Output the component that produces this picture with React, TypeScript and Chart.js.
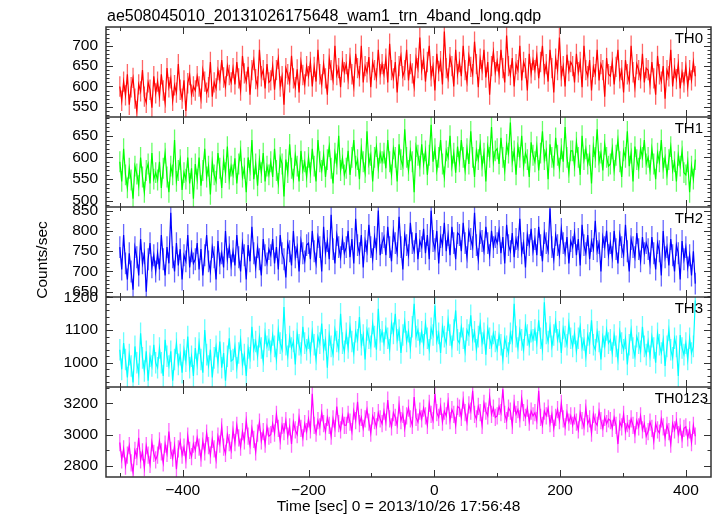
import { useEffect, useRef } from "react";
import { Chart, registerables } from "chart.js";

Chart.register(...registerables);

const TITLE = "ae508045010_20131026175648_wam1_trn_4band_long.qdp";
const X_LABEL = "Time [sec] 0 = 2013/10/26 17:56:48";
const Y_LABEL = "Counts/sec";

// time bins (sec) of the light curve
const TIME_START = -500;
const TIME_STEP = 3;
const X_MIN = -522;
const X_MAX = 440;
const X_LABEL_TICKS = [-400, -200, 0, 200, 400];

const TH0 = [
  600, 565, 612, 578, 630, 555, 598, 621, 570, 540, 605, 588, 640, 575, 560, 610, 592, 548, 625, 583,
  612, 575, 630, 590, 560, 645, 598, 620, 565, 603, 585, 655, 592, 570, 615, 540, 608, 628, 580, 600,
  590, 625, 600, 570, 640, 612, 585, 598, 660, 575, 610, 595, 640, 615, 665, 622, 600, 650, 628, 610,
  645, 605, 660, 620, 590, 675, 632, 612, 648, 580, 640, 665, 618, 600, 690, 625, 640, 595, 655, 610,
  615, 650, 592, 640, 668, 600, 625, 555, 645, 630, 610, 675, 620, 598, 642, 585, 660, 628, 605, 650,
  625, 660, 600, 648, 612, 690, 630, 605, 655, 620, 580, 668, 640, 615, 700, 628, 645, 598, 662, 635,
  655, 618, 670, 630, 600, 680, 645, 625, 700, 610, 650, 635, 672, 598, 660, 640, 620, 690, 630, 655,
  630, 668, 610, 705, 640, 620, 660, 585, 650, 675, 625, 640, 690, 615, 655, 632, 600, 670, 645, 720,
  640, 668, 612, 660, 700, 625, 650, 590, 680, 638, 662, 605, 735, 645, 620, 672, 650, 600, 690, 630,
  660, 625, 700, 640, 612, 675, 648, 630, 710, 655, 598, 668, 640, 690, 622, 660, 580, 650, 685, 635,
  662, 630, 690, 645, 610, 725, 650, 628, 670, 600, 655, 640, 700, 615, 660, 645, 590, 680, 632, 665,
  640, 675, 620, 660, 700, 630, 655, 612, 690, 645, 585, 668, 640, 720, 625, 650, 600, 678, 638, 660,
  650, 610, 680, 635, 660, 598, 700, 640, 625, 665, 590, 648, 630, 690, 615, 655, 640, 575, 670, 630,
  625, 660, 605, 648, 690, 620, 640, 585, 665, 630, 612, 700, 635, 598, 655, 640, 620, 680, 610, 645,
  640, 605, 660, 620, 580, 675, 630, 612, 650, 570, 640, 625, 690, 600, 645, 618, 655, 595, 635, 610,
  650, 600, 640, 615, 660, 625,
];

const TH1 = [
  590, 545, 620, 560, 530, 575, 548, 505, 580, 562, 535, 600, 555, 520, 570, 585, 540, 610, 550, 565,
  548, 590, 530, 575, 610, 555, 520, 580, 560, 640, 545, 570, 595, 525, 565, 550, 600, 540, 575, 505,
  585, 550, 600, 535, 570, 620, 555, 580, 515, 590, 560, 545, 610, 575, 530, 595, 565, 625, 550, 580,
  560, 598, 540, 585, 615, 555, 575, 520, 600, 570, 640, 550, 585, 535, 595, 565, 610, 545, 580, 560,
  590, 555, 620, 570, 540, 600, 585, 510, 595, 565, 630, 575, 550, 605, 580, 545, 615, 570, 590, 555,
  600, 565, 620, 580, 545, 640, 590, 570, 605, 555, 595, 625, 575, 540, 610, 585, 650, 570, 598, 560,
  575, 615, 560, 600, 640, 580, 595, 550, 620, 590, 565, 660, 585, 605, 545, 600, 625, 575, 610, 590,
  610, 575, 640, 590, 560, 620, 600, 545, 630, 595, 580, 665, 600, 570, 615, 590, 520, 625, 605, 580,
  630, 585, 615, 560, 605, 675, 590, 620, 570, 600, 640, 585, 555, 615, 600, 650, 580, 610, 565, 625,
  590, 640, 600, 570, 620, 585, 660, 600, 555, 615, 595, 630, 580, 610, 545, 625, 600, 670, 590, 615,
  620, 585, 645, 600, 570, 630, 610, 680, 590, 615, 560, 625, 600, 650, 580, 610, 595, 555, 635, 605,
  590, 625, 570, 610, 660, 595, 615, 550, 630, 600, 580, 645, 605, 575, 620, 590, 670, 600, 565, 615,
  615, 580, 635, 600, 560, 650, 595, 620, 585, 605, 540, 625, 600, 665, 590, 610, 570, 630, 600, 580,
  585, 620, 570, 605, 640, 590, 555, 615, 600, 660, 580, 610, 545, 625, 595, 575, 620, 600, 640, 585,
  600, 570, 620, 585, 550, 610, 590, 640, 575, 600, 560, 595, 625, 570, 590, 545, 605, 580, 615, 565,
  560, 590, 520, 580, 550, 595,
];

const TH2 = [
  760, 705, 790, 720, 680, 745, 700, 655, 760, 735, 690, 780, 720, 745, 650, 730, 770, 710, 740, 700,
  745, 705, 790, 730, 690, 760, 720, 845, 735, 700, 770, 715, 755, 680, 740, 725, 790, 710, 750, 720,
  730, 770, 705, 755, 690, 740, 790, 725, 700, 760, 735, 680, 775, 720, 745, 710, 800, 730, 760, 715,
  750, 715, 790, 735, 700, 770, 740, 680, 765, 725, 810, 745, 710, 760, 730, 690, 780, 740, 720, 755,
  740, 780, 720, 760, 705, 790, 745, 730, 685, 770, 750, 715, 800, 735, 760, 700, 775, 745, 725, 765,
  770, 730, 800, 750, 720, 785, 760, 700, 810, 745, 775, 730, 840, 755, 720, 790, 760, 735, 780, 745,
  760, 800, 735, 780, 720, 830, 765, 745, 790, 710, 775, 750, 815, 760, 730, 785, 755, 850, 740, 770,
  785, 740, 810, 760, 725, 800, 770, 745, 835, 760, 705, 790, 765, 740, 820, 770, 750, 795, 730, 775,
  760, 805, 745, 790, 730, 850, 775, 755, 800, 720, 785, 765, 820, 750, 790, 740, 810, 770, 730, 795,
  790, 750, 820, 770, 735, 800, 780, 760, 845, 765, 730, 795, 775, 750, 810, 770, 740, 800, 760, 785,
  770, 800, 745, 785, 720, 815, 765, 750, 795, 735, 780, 760, 830, 745, 770, 710, 790, 765, 805, 750,
  780, 740, 810, 765, 725, 795, 770, 750, 855, 760, 730, 790, 765, 740, 805, 770, 745, 785, 720, 775,
  760, 795, 740, 780, 715, 815, 765, 745, 790, 730, 775, 755, 825, 750, 770, 700, 785, 760, 800, 740,
  770, 735, 800, 755, 720, 790, 760, 740, 815, 750, 700, 780, 760, 735, 795, 755, 725, 785, 745, 770,
  755, 720, 785, 745, 705, 770, 750, 690, 800, 735, 760, 715, 780, 740, 700, 765, 745, 680, 775, 730,
  760, 710, 740, 690, 750, 670,
];

const TH3 = [
  1040, 980, 1060, 1010, 955, 1025, 990, 940, 1050, 1000, 965, 1090, 1015, 975, 1035, 945, 1020, 990, 1055, 1000,
  985, 1045, 1000, 960, 1070, 1020, 990, 1035, 945, 1010, 1060, 995, 1025, 970, 1040, 1005, 1080, 985, 1020, 960,
  1045, 995, 1060, 1010, 970, 1100, 1025, 990, 1040, 955, 1015, 1050, 1000, 1065, 985, 1030, 945, 1020, 1075, 1005,
  1010, 1050, 985, 1030, 1070, 995, 1025, 960, 1045, 1015, 1110, 1040, 1065, 1020, 1080, 1045, 1005, 1090, 1050, 1070,
  1035, 1085, 1050, 1010, 1100, 1060, 1040, 1170, 1055, 1020, 1080, 1045, 1065, 995, 1090, 1055, 1030, 1110, 1060, 1040,
  1075, 1030, 1095, 1055, 1010, 1080, 1060, 1120, 1040, 1070, 985, 1085, 1050, 1025, 1100, 1065, 1040, 1150, 1060, 1035,
  1090, 1045, 1110, 1065, 1030, 1095, 1070, 1140, 1055, 1085, 1010, 1100, 1075, 1050, 1120, 1080, 1040, 1165, 1070, 1095,
  1060, 1105, 1075, 1040, 1120, 1090, 1150, 1070, 1100, 1030, 1085, 1125, 1065, 1095, 1045, 1110, 1180, 1080, 1100, 1060,
  1095, 1055, 1120, 1075, 1040, 1105, 1085, 1175, 1065, 1090, 1030, 1110, 1080, 1060, 1130, 1085, 1050, 1100, 1160, 1070,
  1060, 1110, 1075, 1035, 1100, 1085, 1145, 1070, 1095, 1040, 1080, 1120, 1060, 1090, 1025, 1105, 1075, 1050, 1090, 1065,
  1040, 1085, 1055, 1010, 1075, 1050, 1030, 1090, 1065, 1180, 1080, 1045, 1100, 1070, 1040, 1115, 1085, 1055, 1095, 1070,
  1100, 1060, 1130, 1075, 1040, 1185, 1090, 1065, 1110, 1050, 1085, 1125, 1070, 1095, 1030, 1105, 1080, 1055, 1120, 1075,
  1050, 1090, 1035, 1075, 1110, 1045, 1070, 1020, 1085, 1060, 1130, 1055, 1040, 1095, 1065, 1010, 1080, 1050, 1100, 1060,
  1070, 1030, 1085, 1050, 1010, 1095, 1060, 1040, 1075, 995, 1055, 1100, 1045, 1020, 1080, 1060, 1035, 1110, 1050, 1025,
  1065, 1020, 1080, 1045, 1000, 1090, 1055, 1030, 1070, 990, 1050, 1100, 1040, 1015, 1075, 1050, 960, 1085, 1045, 1025,
  1060, 1010, 1075, 1030, 1050, 1190,
];

const TH0123 = [
  2950, 2840, 2910, 2800, 2870, 2930, 2820, 2760, 2900, 2860, 2980, 2840, 2890, 2790, 2930, 2870, 2810, 2950, 2880, 2840,
  2870, 2960, 2890, 2820, 2940, 2880, 3020, 2900, 2850, 2930, 2780, 2910, 2960, 2870, 2920, 2840, 2990, 2900, 2860, 2940,
  2900, 2980, 2920, 2850, 2960, 2890, 3010, 2930, 2870, 2970, 2910, 2840, 2990, 2940, 3050, 2920, 2880, 3000, 2950, 2900,
  3030, 2950, 3060, 2980, 2920, 3020, 2960, 3090, 2990, 2930, 3040, 2970, 2890, 3010, 3080, 2960, 3020, 2940, 3050, 2990,
  3000, 3070, 3010, 3130, 3040, 2960, 3060, 3020, 3090, 2990, 3050, 2940, 3080, 3030, 3000, 3110, 3040, 2980, 3070, 3020,
  3100, 3030, 3260, 3060, 3010, 3090, 3050, 3140, 3070, 3020, 3110, 3060, 2990, 3100, 3040, 3180, 3070, 3030, 3120, 3060,
  3060, 3130, 3080, 3020, 3150, 3090, 3210, 3070, 3110, 3040, 3100, 3160, 3080, 3010, 3120, 3090, 3050, 3140, 3100, 3070,
  3150, 3080, 3220, 3100, 3050, 3140, 3110, 3060, 3190, 3090, 3130, 3040, 3120, 3170, 3100, 3060, 3240, 3110, 3080, 3150,
  3100, 3170, 3120, 3060, 3200, 3130, 3090, 3260, 3140, 3110, 3180, 3080, 3150, 3120, 3210, 3090, 3160, 3130, 3060, 3180,
  3170, 3110, 3220, 3140, 3080, 3190, 3150, 3280, 3130, 3100, 3180, 3140, 3060, 3200, 3150, 3120, 3240, 3130, 3170, 3110,
  3120, 3180, 3140, 3290, 3130, 3090, 3170, 3150, 3060, 3200, 3130, 3160, 3100, 3230, 3140, 3110, 3170, 3080, 3150, 3120,
  3140, 3090, 3280, 3110, 3060, 3150, 3120, 3170, 3070, 3130, 3040, 3110, 3160, 3090, 3200, 3100, 3050, 3140, 3080, 3120,
  3060, 3120, 3080, 3030, 3140, 3090, 3050, 3170, 3070, 3100, 3010, 3130, 3080, 3060, 3150, 3090, 3040, 3110, 3070, 3100,
  3090, 3040, 3110, 3060, 2940, 3080, 3050, 3130, 3020, 3070, 3040, 3100, 3060, 3000, 3090, 3050, 3120, 3030, 3070, 2990,
  3020, 3080, 3040, 2960, 3070, 3030, 3010, 3100, 3050, 2980, 3060, 3020, 2940, 3070, 3030, 3090, 3000, 3050, 2970, 3040,
  3050, 2980, 3030, 2950, 3060, 2990,
];

// 1-sigma count-rate errors of each band
const ERRORS = [25, 24, 27, 33, 55];

const PANELS = [
  { label: "TH0", data: TH0, color: "#ff0000", min: 525, max: 746, major: 50, minor: 10 },
  { label: "TH1", data: TH1, color: "#00ff00", min: 486, max: 693, major: 50, minor: 10 },
  { label: "TH2", data: TH2, color: "#0000ff", min: 637, max: 859, major: 50, minor: 10 },
  { label: "TH3", data: TH3, color: "#00ffff", min: 926, max: 1201, major: 100, minor: 20 },
  { label: "TH0123", data: TH0123, color: "#ff00ff", min: 2730, max: 3304, major: 200, minor: 100 },
];

const FONT = "Liberation Sans, Arial, Helvetica, sans-serif";
const FRAME = "#333333";

const hexToRgba = (hex: string, a: number) => {
  const n = parseInt(hex.slice(1), 16);
  return `rgba(${(n >> 16) & 255},${(n >> 8) & 255},${n & 255},${a})`;
};

const qdpPlugin = {
  id: "qdpFrame",
  beforeDatasetDraw(chart: any, args: any) {
    const meta = chart.getDatasetMeta(args.index);
    const ys = chart.scales[meta.yAxisID];
    const a = chart.chartArea;
    const ctx = chart.ctx;
    ctx.save();
    ctx.beginPath();
    ctx.rect(a.left, ys.top, a.right - a.left, ys.bottom - ys.top);
    ctx.clip();
    // error bars behind the line
    const p = PANELS[args.index];
    const err = ERRORS[args.index];
    ctx.strokeStyle = hexToRgba(p.color, 0.6);
    ctx.lineWidth = 1.3;
    ctx.beginPath();
    meta.data.forEach((pt: any, j: number) => {
      const v = p.data[j];
      ctx.moveTo(pt.x, ys.getPixelForValue(v - err));
      ctx.lineTo(pt.x, ys.getPixelForValue(v + err));
    });
    ctx.stroke();
  },
  afterDatasetDraw(chart: any) {
    chart.ctx.restore();
  },
  afterDraw(chart: any) {
    const ctx = chart.ctx;
    const a = chart.chartArea;
    const xs = chart.scales.x;
    const seg = (x1: number, y1: number, x2: number, y2: number) => {
      ctx.beginPath();
      ctx.moveTo(x1, y1);
      ctx.lineTo(x2, y2);
      ctx.stroke();
    };
    ctx.save();
    ctx.strokeStyle = FRAME;
    ctx.lineWidth = 1;
    PANELS.forEach((p, i) => {
      const ys = chart.scales["y" + i];
      const top = ys.top;
      const bottom = ys.bottom;
      const k0 = Math.ceil(ys.min / p.minor);
      const k1 = Math.floor(ys.max / p.minor);
      for (let k = k0; k <= k1; k++) {
        const v = k * p.minor;
        const y = Math.round(ys.getPixelForValue(v)) + 0.5;
        const major = v % p.major === 0;
        const len = major ? 7 : 3.5;
        seg(a.left, y, a.left + len, y);
        seg(a.right, y, a.right - len, y);
      }
      for (let k = Math.ceil(X_MIN / 100); k <= Math.floor(X_MAX / 100); k++) {
        const v = k * 100;
        const x = Math.round(xs.getPixelForValue(v)) + 0.5;
        const len = v % 200 === 0 ? 7 : 4;
        seg(x, top, x, top + len);
        seg(x, bottom, x, bottom - len);
      }
    });
    ctx.lineWidth = 1.5;
    ctx.strokeRect(a.left, a.top, a.right - a.left, a.bottom - a.top);
    for (let i = 1; i < PANELS.length; i++) {
      const y = chart.scales["y" + i].top;
      seg(a.left, y, a.right, y);
    }
    ctx.fillStyle = "#000";
    ctx.font = `15px ${FONT}`;
    ctx.textAlign = "right";
    ctx.textBaseline = "alphabetic";
    PANELS.forEach((p, i) => {
      const ys = chart.scales["y" + i];
      ctx.fillText(p.label, a.right - (i === PANELS.length - 1 ? 3 : 8), ys.top + 15.5);
    });
    ctx.font = `16px ${FONT}`;
    ctx.textAlign = "left";
    ctx.fillText(TITLE, a.left + 1, a.top - 6.5);
    ctx.font = `15.5px ${FONT}`;
    ctx.textAlign = "center";
    ctx.fillText(X_LABEL, (a.left + a.right) / 2 - 10, a.bottom + 34);
    ctx.save();
    ctx.translate(46.5, (a.top + a.bottom) / 2 + 8);
    ctx.rotate(-Math.PI / 2);
    ctx.fillText(Y_LABEL, 0, 0);
    ctx.restore();
    ctx.restore();
  },
};

export default function App() {
  const ref = useRef<HTMLCanvasElement | null>(null);
  useEffect(() => {
    if (!ref.current) return;
    const datasets = PANELS.map((p, i) => ({
      label: p.label,
      data: p.data.map((v, j) => ({ x: TIME_START + TIME_STEP * j, y: v })),
      yAxisID: "y" + i,
      borderColor: p.color,
      backgroundColor: p.color,
      borderWidth: 1.2,
      pointRadius: 0,
      tension: 0,
      fill: false,
    }));
    const scales: any = {
      x: {
        type: "linear",
        min: X_MIN,
        max: X_MAX,
        afterBuildTicks: (s: any) => {
          s.ticks = X_LABEL_TICKS.map((v) => ({ value: v }));
        },
        ticks: {
          autoSkip: false,
          maxRotation: 0,
          padding: 4,
          color: "#000",
          font: { family: FONT, size: 15.5 },
          callback: (v: any) => String(v).replace("-", "\u2212"),
        },
        grid: { display: false, drawTicks: false },
        border: { display: false },
        afterFit: (s: any) => {
          s.height = 39;
        },
      },
    };
    for (let i = PANELS.length - 1; i >= 0; i--) {
      const p = PANELS[i];
      scales["y" + i] = {
        type: "linear",
        position: "left",
        stack: "panels",
        stackWeight: 1,
        min: p.min,
        max: p.max,
        afterBuildTicks: (s: any) => {
          const out: any[] = [];
          for (let k = Math.ceil(p.min / p.major); k * p.major <= p.max; k++) {
            out.push({ value: k * p.major });
          }
          s.ticks = out;
        },
        ticks: {
          autoSkip: false,
          padding: 8,
          color: "#000",
          font: { family: FONT, size: 15.5 },
          callback: (v: any) => String(v),
        },
        grid: { display: false, drawTicks: false },
        border: { display: false },
        afterFit: (s: any) => {
          s.width = 106;
        },
      };
    }
    const chart = new Chart(ref.current, {
      type: "line",
      data: { datasets },
      options: {
        responsive: false,
        animation: false,
        devicePixelRatio: 1,
        events: [],
        layout: { padding: { left: 0, top: 27, right: 6, bottom: 0 } },
        plugins: { legend: { display: false }, tooltip: { enabled: false }, title: { display: false } },
        scales,
      },
      plugins: [qdpPlugin],
    });
    return () => chart.destroy();
  }, []);
  return (
    <div style={{ position: "absolute", left: 0, top: 0, width: 717, height: 516, background: "#fff" }}>
      <canvas ref={ref} width={717} height={516} style={{ display: "block" }} />
    </div>
  );
}
